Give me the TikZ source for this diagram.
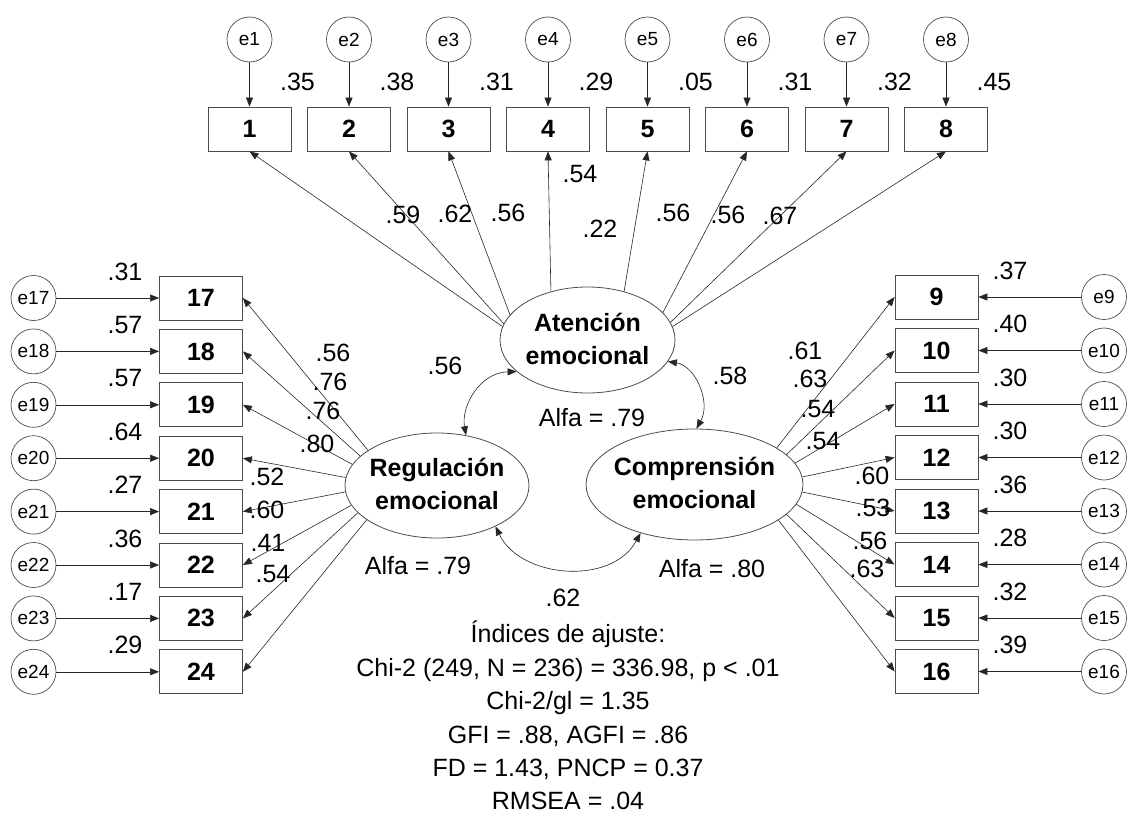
\documentclass[tikz,border=0pt]{standalone}
\usepackage{fontspec}
\setmainfont{Liberation Sans}
\usetikzlibrary{arrows.meta,shapes.geometric}
\begin{document}
\begin{tikzpicture}[x=1bp,y=-1bp,
  >={Triangle[length=9bp,width=7bp]},
  ln/.style={->, draw=black!85, line width=0.6bp},
  obs/.style={draw=black!70, line width=0.8bp, minimum width=83bp, minimum height=44bp, inner sep=0, font=\fontsize{25bp}{30bp}\selectfont\bfseries},
  err/.style={circle, draw=black!70, line width=0.7bp, minimum size=45bp, inner sep=0, font=\fontsize{19bp}{22bp}\selectfont},
  lat/.style={ellipse, draw=black!70, line width=0.8bp, inner sep=0},
  latt/.style={align=center, inner sep=0, font=\fontsize{25bp}{33bp}\selectfont\bfseries},
  num/.style={inner sep=0, anchor=base, font=\fontsize{25bp}{30bp}\selectfont}
]
\useasboundingbox (0,0) rectangle (1127,814);

% latent variables
\node[lat, minimum width=175bp, minimum height=106bp] (aten) at (587.5,340) {};
\node[latt] (atenT) at (587.5,339) {Atención\\emocional};
\node[lat, minimum width=184bp, minimum height=105bp] (reg) at (437,485.5) {};
\node[latt] (regT) at (437,484) {Regulación\\emocional};
\node[lat, minimum width=217bp, minimum height=111bp] (comp) at (694.5,484.5) {};
\node[latt] (compT) at (694.5,483) {Comprensión\\emocional};

% top indicators
\foreach \i/\v in {1/.35,2/.38,3/.31,4/.29,5/.05,6/.31,7/.32,8/.45} {
  \node[obs] (b\i) at ({249.5+99.5*(\i-1)},129) {\i};
  \node[err] (e\i) at ({249.5+99.5*(\i-1)},39.5) {e\i};
  \draw[ln] (e\i) -- (b\i);
  \node[num] (r\i) at ({249.5+99.5*(\i-1)+48},91) {\v};
}
% left indicators
\foreach \i/\v [count=\k from 0] in {17/.31,18/.57,19/.57,20/.64,21/.27,22/.36,23/.17,24/.29} {
  \node[obs] (b\i) at (201,{298+53.4*\k}) {\i};
  \node[err] (e\i) at (33.5,{298+53.4*\k}) {e\i};
  \draw[ln] (e\i) -- (b\i);
  \node[num] (r\i) at (125,{298+53.4*\k-18}) {\v};
}
% right indicators
\foreach \i/\v [count=\k from 0] in {9/.37,10/.40,11/.30,12/.30,13/.36,14/.28,15/.32,16/.39} {
  \node[obs] (b\i) at (936.5,{297+53.5*\k}) {\i};
  \node[err] (e\i) at (1104,{297+53.5*\k}) {e\i};
  \draw[ln] (e\i) -- (b\i);
  \node[num] (r\i) at (1010,{297+53.5*\k-18}) {\v};
}

% loadings
\foreach \i/\a in {1/171,2/169,3/162,4/127,5/53,6/20,7/12,8/9}
  \draw[ln] (aten.\a) -- (b\i.south);
\foreach \i/\a in {17/153,18/159,19/166,20/175,21/184,22/193,23/199,24/206}
  \draw[ln] (reg.\a) -- (b\i.east);
\foreach \i/\a in {9/24,10/18,11/12,12/4,13/356,14/349,15/342,16/337}
  \draw[ln] (comp.\a) -- (b\i.west);

% loading labels
\foreach \n/\x/\y/\v in {l1/403/214/.59,l2/455/213/.62,l3/508/212/.56,l4/580/173/.54,l5/600/228/.22,l6/673/212/.56,l7/728/214/.56,l8/780/215/.67,
  l17/333/352/.56,l18/330/381/.76,l19/323/410/.76,l20/317/443/.80,l21/267/476/.52,l22/267/509/.60,l23/268/542/.41,l24/273/573/.54,
  l9/805/350/.61,l10/810/378/.63,l11/818/408/.54,l12/823/440/.54,l13/872/475/.60,l14/873/507/.53,l15/870/540/.56,l16/867/568/.63}
  \node[num] (\n) at (\x,{\y+9}) {\v};

% correlations
\draw[ln,<->] (aten.204) .. controls +(-37,1) and +(-5,-29) .. (reg.60);
\draw[ln,<->] (aten.345) .. controls +(27,4) and +(15,-27) .. (comp.88);
\draw[ln,<->] (reg.325) .. controls +(25,52) and +(-29,53) .. (comp.222);
\node[num] (c1) at (445,374) {.56};
\node[num] (c2) at (730,384) {.58};
\node[num] (c3) at (563,606) {.62};

% alphas
\node[num] (a1) at (592,426) {Alfa = .79};
\node[num] (a2) at (418,574) {Alfa = .79};
\node[num] (a3) at (712,577) {Alfa = .80};

% fit indices
\node[num] (t1) at (568,642) {Índices de ajuste:};
\node[num] (t2) at (568,676) {Chi-2 (249, N = 236) = 336.98, p < .01};
\node[num] (t3) at (568,709) {Chi-2/gl = 1.35};
\node[num] (t4) at (568,743) {GFI = .88, AGFI = .86};
\node[num] (t5) at (568,776) {FD = 1.43, PNCP = 0.37};
\node[num] (t6) at (568,809) {RMSEA = .04};
\end{tikzpicture}
\end{document}
